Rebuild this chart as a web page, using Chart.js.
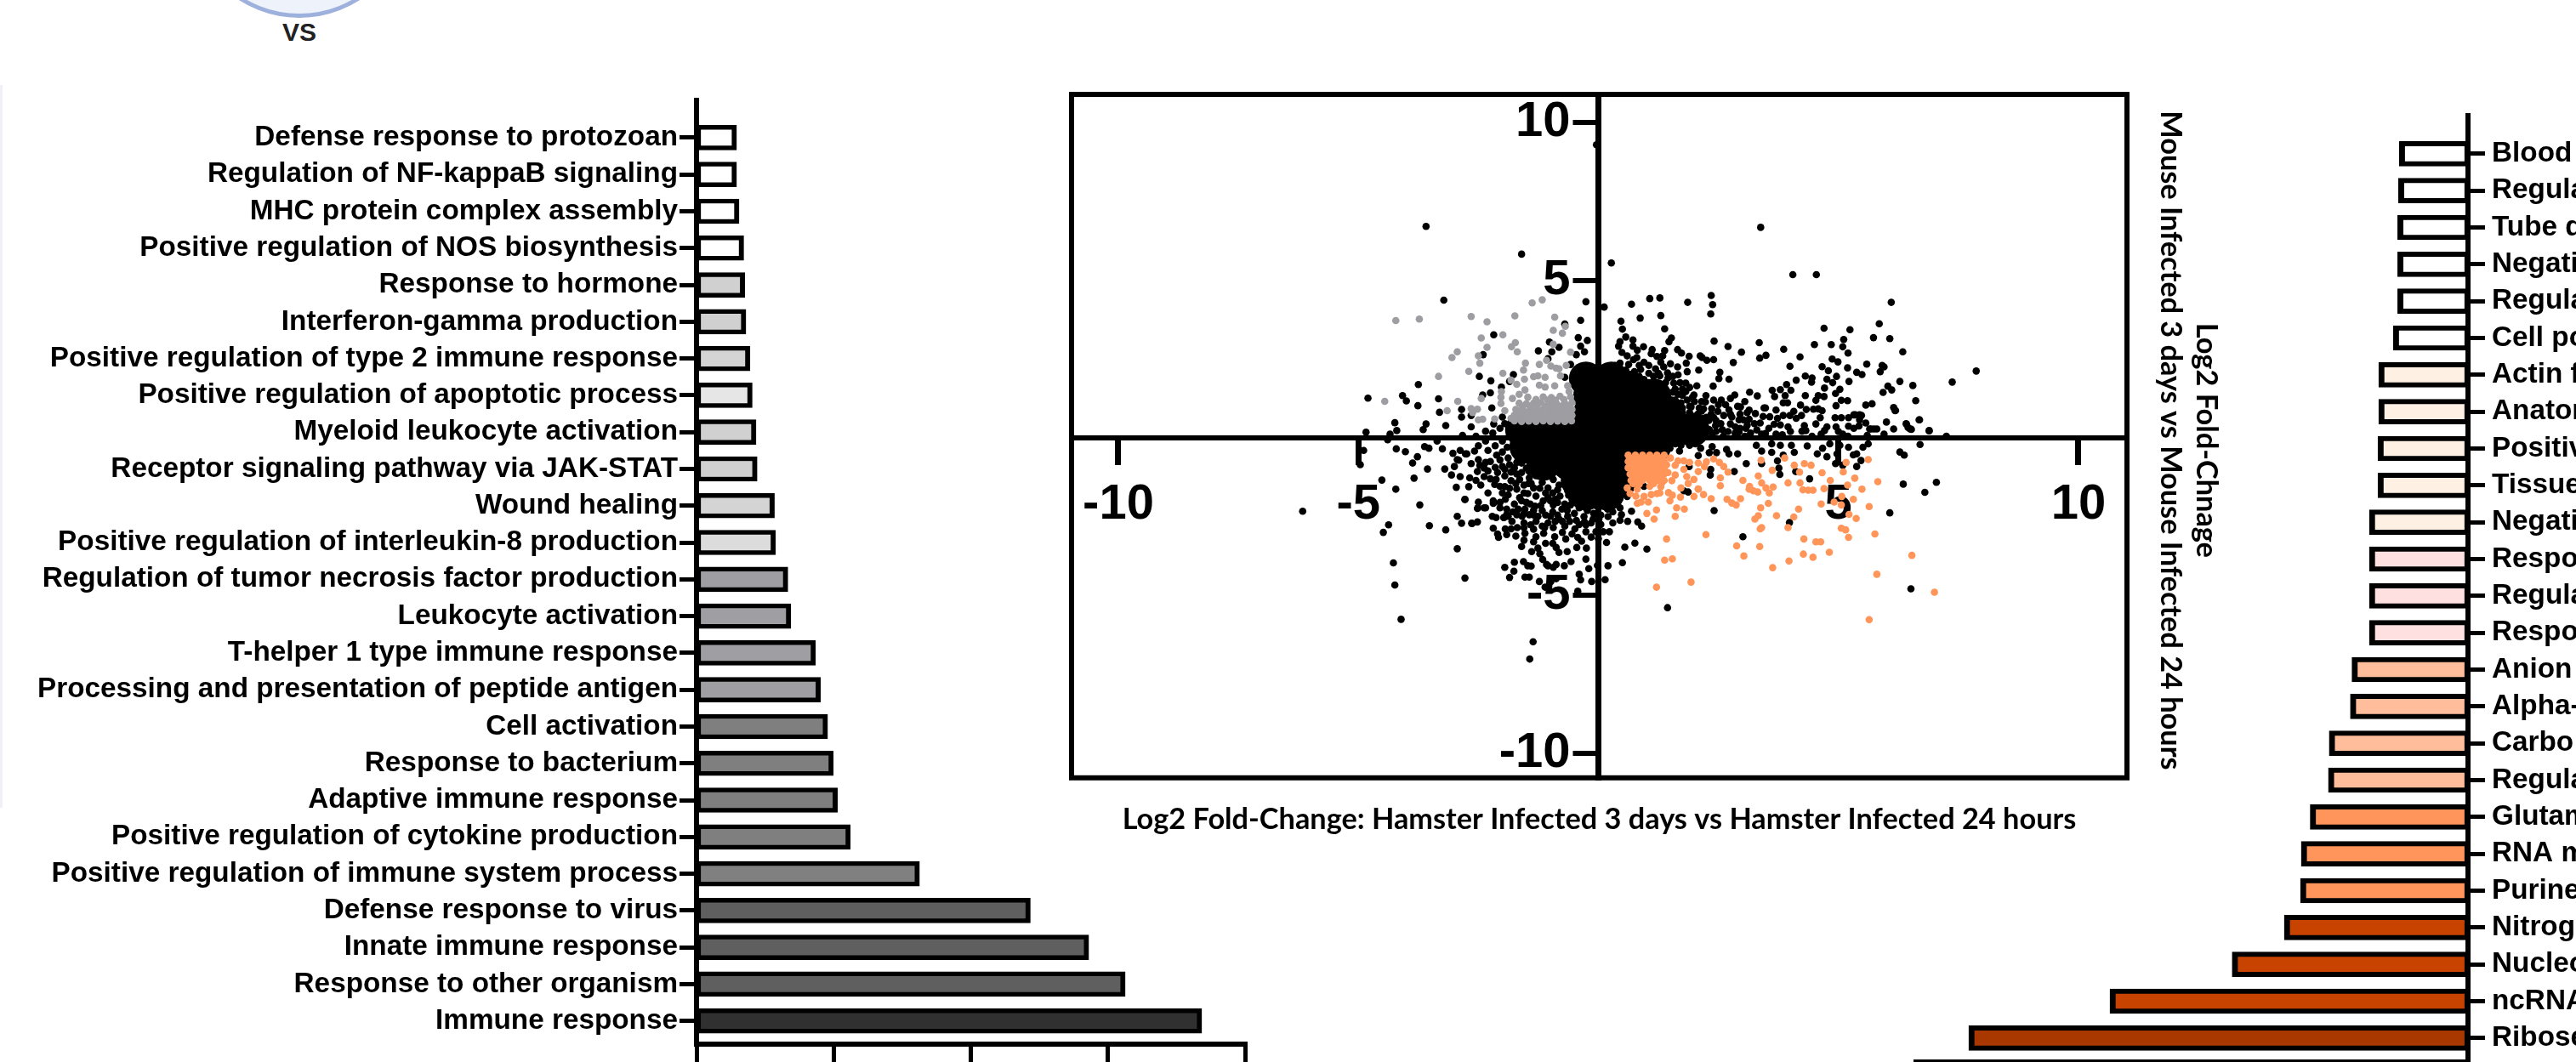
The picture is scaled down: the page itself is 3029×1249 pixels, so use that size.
<!DOCTYPE html>
<html><head><meta charset="utf-8">
<style>
html,body{margin:0;padding:0;background:#fff;width:3029px;height:1249px;overflow:hidden}
canvas{position:absolute}
#disc{position:absolute;left:221px;top:-241px;width:262px;height:262px;box-sizing:border-box;border-radius:50%;background:#edf2fb;border:5px solid #9db1dc}
#vs{position:absolute;left:302px;top:21px;width:100px;text-align:center;font:bold 30px 'Liberation Sans';color:#222}
#strip{position:absolute;left:0;top:100px;width:3px;height:850px;background:#f0f0f6}
</style>
<script src="https://cdn.jsdelivr.net/npm/chart.js@4/dist/chart.umd.min.js"></script>
</head><body>
<div id="strip"></div><div id="disc"></div><div id="vs">VS</div>
<canvas id="left" width="1480" height="1249" style="left:0;top:0"></canvas>
<canvas id="right" width="829" height="1249" style="left:2200px;top:0"></canvas>
<canvas id="scatter" width="1480" height="930" style="left:1150px;top:60px"></canvas>
<script>
const leftTerms=["Defense response to protozoan","Regulation of NF-kappaB signaling","MHC protein complex assembly","Positive regulation of NOS biosynthesis","Response to hormone","Interferon-gamma production","Positive regulation of type 2 immune response","Positive regulation of apoptotic process","Myeloid leukocyte activation","Receptor signaling pathway via JAK-STAT","Wound healing","Positive regulation of interleukin-8 production","Regulation of tumor necrosis factor production","Leukocyte activation","T-helper 1 type immune response","Processing and presentation of peptide antigen","Cell activation","Response to bacterium","Adaptive immune response","Positive regulation of cytokine production","Positive regulation of immune system process","Defense response to virus","Innate immune response","Response to other organism","Immune response"];
const leftValues=[1.46,1.46,1.55,1.72,1.76,1.80,1.95,2.03,2.17,2.21,2.84,2.88,3.33,3.44,4.34,4.52,4.78,4.99,5.14,5.61,8.13,12.17,14.30,15.63,18.42];
const leftColors=["#fff","#fff","#fff","#fff","#d0d0d0","#d0d0d0","#d4d4d4","#e6e6e6","#d0d0d0","#d0d0d0","#d4d4d4","#dcdcdc","#9e9ea3","#9e9ea3","#9e9ea3","#9e9ea3","#7f7f7f","#7f7f7f","#7f7f7f","#7f7f7f","#808080","#5f5f5f","#5f5f5f","#5f5f5f","#303030"];
const leftXTicks=[0,5,10,15,20];
// The right-hand labels are cut by the edge of the figure: only the readable part is kept.
const rightTerms=["Blood","Regula","Tube d","Negati","Regula","Cell po","Actin f","Anatom","Positiv","Tissue","Negati","Respo","Regula","Respo","Anion","Alpha-","Carbo","Regula","Glutam","RNA m","Purine","Nitrog","Nucleo","ncRNA","Ribose"];
const rightValues=[3.44,3.48,3.52,3.52,3.52,3.74,4.47,4.47,4.51,4.51,4.94,4.94,4.94,4.94,5.81,5.89,6.95,6.99,7.90,8.35,8.39,9.20,11.81,17.93,25.0];
const rightColors=["#fff","#fff","#fff","#fff","#fff","#fff","#fff0e4","#fff0e4","#fff0e4","#fff0e4","#fff0e4","#ffe0e0","#ffe0e0","#ffe0e0","#ffbd9b","#ffbd9b","#ffbd9b","#ffbd9b","#ff955a","#ff955a","#ff955a","#c94300","#c94300","#c94300","#a83800"];
const rightXTicks=[0,5,10,15,20,25];
const scatterXTicks=[-10,-5,5,10];
const scatterYTicks=[10,5,-5,-10];
const xTitle="Log2 Fold-Change: Hamster Infected 3 days vs Hamster Infected 24 hours";
const yTitle=["Log2 Fold-Chnage","Mouse Infected 3 days vs Mouse Infected 24 hours"];
// Solid centre of the cloud: individual genes cannot be read there, so wide markers stand in for them.
const corePoints=[[-.26,1.88],[.27,1.88],[.63,1.6],[-.17,1.34],[.36,1.34],[.89,1.34],[1.16,1.34],[-.17,.80],[.36,.80],[.89,.80],[1.43,.80],[-1.59,.26],[-1.05,.26],[-.52,.26],[.01,.26],[.54,.26],[1.07,.26],[1.60,.26],[1.96,.26],[-1.50,-.28],[-.97,-.28],[-.43,-.28],[.10,-.28],[.63,-.28],[1.16,-.28],[-1.14,-.82],[-.61,-.82],[-.08,-.82],[.45,-.82],[-.43,-1.36],[.01,-1.36],[.45,-1.36],[-.26,-1.77],[.19,-1.77]];
const blackPoints=[[-.04,9.30],[3.38,6.68],[-3.59,6.71],[-1.60,5.83],[.27,5.55],[-3.22,4.37],[-.26,4.32],[.12,4.15],[-.37,3.73],[-.70,3.61],[-2.18,3.27],[-1.02,3.04],[-.42,3.18],[-.23,3.09],[-.37,2.91],[-.82,2.87],[-1.25,2.76],[-2.40,2.64],[-.97,2.73],[-.46,2.64],[-.29,2.73],[-.58,2.33],[-1.05,2.51],[-2.48,1.95],[-1.77,2.01],[-1.85,1.79],[-2.24,1.81],[-3.75,1.69],[-2.02,1.61],[-.70,1.92],[-2.41,1.36],[-2.25,1.43],[-4.08,1.34],[-4.80,1.26],[-4.00,1.17],[-3.33,1.24],[-3.76,1.02],[-2.85,.90],[-2.22,.95],[-3.31,.81],[-2.65,.71],[-2.85,.66],[-2.00,.66],[-4.24,.48],[-3.59,.44],[-3.18,.39],[-4.20,.23],[-4.84,.18],[-4.34,.12],[-4.39,-.06],[-3.65,.26],[-2.65,.35],[-2.35,.21],[-2.18,.44],[-2.83,.08],[-4.89,-.40],[-4.96,-.85],[-4.21,-.35],[-4.02,-.44],[-3.62,-.28],[-3.53,-.33],[-3.36,-.10],[-3.25,-.35],[-3.03,-.49],[-2.88,-.40],[-2.74,-.51],[-3.77,-.60],[-3.87,-.80],[-3.56,-.99],[-3.20,-.99],[-2.94,-.69],[-3.0,-.91],[-2.65,-.82],[-2.50,-.69],[-2.47,-.87],[-2.35,-.78],[-2.52,-1.07],[-2.38,-1.23],[-3.06,-1.18],[-2.88,-1.23],[-2.68,-1.27],[-4.51,-1.34],[-4.22,-1.63],[-3.84,-1.28],[-2.96,-1.57],[-6.16,-2.33],[-3.72,-2.13],[-2.78,-1.95],[-2.50,-2.04],[-2.35,-2.22],[-2.52,-2.24],[-2.19,-2.08],[-2.94,-2.49],[-2.85,-2.71],[-2.64,-2.71],[-2.52,-2.67],[-3.52,-2.79],[-4.37,-2.76],[-4.48,-3.0],[-3.18,-2.92],[-2.94,-3.52],[-2.19,-2.87],[-2.13,-2.53],[-1.91,-2.44],[-1.97,-2.53],
[-2.77,-.51],[-2.58,-.42],[-2.91,-.71],[-2.38,-.96],[-2.13,-1.32],[-1.95,-1.21],[-2.15,-.94],[-2.12,-.55],[-1.88,-.64],[-1.70,-.78],[-1.50,-.96],[-2.0,-.91],[-1.82,-1.09],[-1.82,-1.36],[-1.64,-1.32],[-1.44,-1.27],[-2.16,-1.48],[-2.05,-1.54],[-1.70,-1.63],[-1.88,-1.81],[-1.64,-1.90],[-1.47,-1.77],[-1.35,-1.59],[-1.17,-1.41],[-.94,-1.32],[-1.05,-1.59],[-.82,-1.5],[-.64,-1.68],[-.46,-1.86],[-.35,-1.50],[-1.94,-1.95],[-2.18,-2.06],[-2.19,-2.0],[-2.51,-2.22],[-2.38,-2.22],[-2.78,-1.96],[-2.05,-2.22],[-1.91,-2.26],[-2.21,-2.49],[-1.97,-2.53],[-1.88,-2.49],[-1.67,-2.26],[-1.53,-2.26],[-1.32,-2.17],[-1.17,-2.31],[-1.70,-2.44],[-1.59,-2.49],[-1.44,-2.44],[-1.26,-2.49],[-.94,-2.13],[-.76,-2.26],[-.58,-2.13],[-.40,-2.22],[-.23,-2.31],[-1.0,-2.49],[-.82,-2.58],[-.64,-2.49],[-.46,-2.62],[-.29,-2.67],[-.11,-2.58],[-2.63,-2.72],[-2.10,-3.05],[-2.08,-3.16],[-1.94,-2.89],[-1.82,-2.89],[-1.69,-2.85],[-1.91,-3.07],[-1.72,-3.12],[-1.53,-3.03],[-1.30,-3.14],[-1.14,-3.03],[-.91,-3.14],[-1.41,-2.76],[-1.17,-2.80],[-.94,-2.85],[-.70,-2.80],[-.49,-2.89],[-.26,-2.76],[-.05,-2.98],[-.68,-3.21],[-.43,-3.16],[-.35,-3.28],[-.26,-2.98],[.10,-2.98],[.23,-2.98],[.17,-3.32],[-4.27,-3.97],[-4.24,-4.67],[-4.11,-5.76],[-2.78,-4.45],[-1.36,-6.47],[-1.43,-7.02],[-1.60,-3.45],[-1.39,-3.61],[-1.26,-3.50],[-1.22,-3.68],[-1.16,-3.86],[-1.08,-4.02],[-.88,-3.48],[-.82,-3.64],[-.65,-3.61],[-.45,-3.48],[-.25,-3.50],[-.26,-3.85],[-.57,-3.93],[-.71,-4.06],[-.88,-4.02],[-.94,-4.11],[-1.05,-4.06],[-1.95,-4.11],[-1.75,-3.95],[-1.76,-4.23],[-1.56,-3.93],[-1.47,-4.06],[-1.40,-4.07],[-1.85,-4.43],[-1.53,-4.42],[-1.44,-4.42],[-1.23,-4.56],[-1.11,-4.74],[-.99,-4.56],[-.88,-4.47],[-.40,-4.33],[-.37,-4.51],[-.14,-4.56],[-.2,-4.15],[-.02,-4.05],[.20,-4.06],[.14,-4.50],[-.43,-4.87],[.50,-3.96],[.55,-3.47],[.76,-3.34],[1.01,-3.53],[.01,-2.58],[.19,-2.26],[.45,-2.22],[.69,-2.33],[.48,-2.44],[.45,-2.62],[.61,-2.65],[.82,-2.67],[.90,-2.8],[.30,-2.04],[.60,-1.86],
[1.44,-5.39],[2.41,-2.31],[3.01,-3.14],[3.98,-2.69],[4.40,-1.30],[6.07,-2.38],[6.35,-1.47],[6.80,-1.73],[7.04,-1.41],[6.51,-4.79],[.95,-1.54],[1.87,-1.72],[1.78,-1.68],[2.34,-1.0],[2.33,-1.18],[1.89,-.91],[2.83,-1.07],[3.08,-.82],[3.40,-.82],[3.76,-.96],[3.78,-1.16],[3.73,-.73],[4.11,-1.07],[5.38,-.91],[4.94,-.82],[5.09,-.87],[5.31,-.54],[5.38,-.51],[5.47,-.72],[5.21,-.30],[5.51,-.30],[6.28,-.45],[6.37,-.55],[6.70,-.21],[7.24,.03],[5.62,-.19],[6.42,.43],[6.49,.28],[6.68,.57],[6.89,.23],[6.18,.86],[5.74,.28],[5.65,.28],[5.44,.73],[5.32,.73],[1.72,-.24],[1.90,-.24],[2.02,-.19],[2.31,-.47],[2.46,-.47],[2.72,-.51],[2.90,-.51],[2.67,-.37],[2.37,-.28],[2.13,-.33],[3.29,-.24],[3.40,-.42],[3.61,-.46],[3.85,-.55],[4.08,-.46],[4.02,-.24],[4.35,-.26],[4.56,-.51],[4.67,-.33],[4.76,-.6],[4.97,-.51],[4.82,-.19],[5.03,-.24],[3.61,-.19],[3.79,-.24],[1.13,-.19],[1.37,-.24],[1.60,-.19],[1.49,-.33],[1.69,-.42],[2.08,-.56],
[4.05,5.18],[4.54,5.18],[.69,4.24],[1.07,4.42],[1.28,4.44],[1.86,4.30],[2.35,4.52],[2.38,4.23],[2.34,3.93],[.47,3.70],[.87,3.80],[1.30,3.88],[6.10,4.30],[.50,3.45],[1.38,3.46],[4.70,3.48],[5.24,3.43],[5.85,3.62],[1.52,3.17],[1.47,3.05],[2.41,3.07],[5.73,3.18],[6.07,3.15],[5.11,3.12],[3.35,3.02],[2.70,2.90],[4.50,2.96],[4.85,2.96],[5.09,2.89],[3.86,2.81],[5.20,2.69],[6.34,2.73],[2.98,2.72],[3.49,2.62],[3.36,2.53],[4.20,2.57],[4.87,2.50],[4.99,2.41],[2.81,2.39],[5.59,2.34],[3.99,2.27],[4.66,2.26],[5.19,2.22],[5.91,2.30],[5.95,2.25],[5.87,2.10],[7.87,2.12],[7.37,1.77],[4.79,2.13],[5.38,2.08],[5.49,2.01],[4.31,1.96],[4.96,1.95],[4.45,1.90],[4.44,1.77],[4.76,1.86],[4.12,1.83],[4.88,1.75],[5.22,1.79],[6.28,1.79],[6.55,1.66],[3.92,1.69],[4.71,1.58],[6.03,1.64],[6.11,1.52],[5.93,1.44],[5.03,1.54],[4.94,1.41],[4.01,1.51],[3.62,1.51],[3.79,1.53],[3.67,1.31],[3.89,1.34],[3.31,1.33],[2.84,1.36],[4.31,1.34],[4.58,1.34],[4.70,1.31],[4.53,1.19],[5.06,1.19],[5.19,1.18],[4.95,1.02],[6.61,1.18],[5.57,1.04],[5.70,1.08],[3.94,1.11],[3.85,1.11],[4.21,1.04],[6.15,.96],[6.19,.87],[3.48,.95],[3.45,.95],[3.70,.88],[4.07,.84],[4.33,.90],[4.48,.91],[4.58,.92],[4.66,.86],[3.99,.71],[4.23,.71],[4.12,.62],[3.85,.71],[3.73,.62],[3.43,.68],[3.57,.67],[3.27,.77],[3.14,.88],[2.96,.98],[2.90,1.0],[2.72,.89],[3.14,.59],[3.02,.57],[2.93,.57],[2.78,.66],[2.75,.44],[3.37,.47],[3.66,.43],[3.79,.41],[4.29,.39],[4.24,.21],[4.32,.23],[4.53,.44],[4.62,.64],[4.76,.35],[4.71,.23],[4.64,.12],[4.93,.64],[5.06,.64],[5.21,.64],[5.35,.73],[5.48,.71],[5.44,.57],[5.57,.47],[4.95,.35],[5.0,.20],[5.09,.12],[5.21,.37],[5.32,.30],[5.43,.38],[5.68,.28],[5.80,.28],[6.69,.57],[6.41,.45],[6.45,.33],[6.52,.27],[6.89,.22],[3.07,.30],[3.17,.15],[2.93,.19],[3.48,.14],[3.70,.12],[3.83,.10],[7.25,.05],
[.57,3.2],[.72,3.11],[.45,3.05],[.42,2.91],[.72,2.91],[.81,2.78],[.49,2.71],[.94,2.89],[1.12,2.8],[1.10,2.67],[1.22,2.58],[1.34,2.6],[1.38,2.77],[1.65,2.8],[1.73,2.69],[1.89,2.59],[1.83,2.37],[2.12,2.6],[2.16,2.55],[2.26,2.46],[2.40,2.48],[2.09,2.15],[2.53,2.08],[2.51,1.88],[2.72,1.86],[2.39,1.64],[1.82,1.74],[1.82,1.47],[1.99,1.36],[2.24,1.34],[2.23,1.14],[2.40,1.2],[2.56,1.2],[2.36,.93],[2.19,.92],[2.49,.84],[2.61,.71],[1.96,1.29],[.73,2.48],[.63,2.33],[.45,2.37],[.57,2.15],[.88,2.17],[1.19,2.19],[1.36,2.25],[1.44,2.06],[1.28,1.97],[1.25,1.65],[1.57,1.74],[1.66,2.0],[1.43,1.47],[1.66,1.38],[1.31,1.25],[1.48,1.2],[1.72,1.11],[1.93,.98],[1.54,.93],[1.75,.8],[2.07,.75],[2.19,.62],[2.44,.39],[2.58,.26],[2.02,.48],[1.90,.48],[2.13,.3],[2.31,.26],[2.37,.12],[.55,2.05],[.35,2.3],[.85,1.95],[1.05,1.75],[1.15,1.95],[1.6,1.2],[1.9,1.0],[2.2,.45],[1.7,.55],[1.95,.2],[2.2,.12],
[-1.75,-.95],[-1.6,-1.1],[-1.45,-1.05],[-1.3,-1.2],[-1.55,-1.5],[-1.4,-1.45],[-1.22,-1.6],[-1.1,-1.75],[-.95,-1.75],[-.8,-1.85],[-.7,-1.5],[-.55,-1.6],[-1.3,-1.85],[-1.15,-2.0],[-1.0,-2.0],[-.85,-2.05],[-.7,-2.1],[-.55,-1.95],[-1.5,-2.05],[-1.35,-2.3],[-.2,-2.05],[-.05,-2.15],[.1,-2.1],[-.1,-2.4],[.05,-2.45],[.2,-2.5],[.3,-2.35],[-.75,-2.65],[-1.05,-2.7],[-1.3,-2.65],[-1.55,-2.7],[-1.8,-2.65],[-.95,-2.35],[-.5,-2.4],[-.3,-2.5],[-.2,-2.1],
[.95,1.85],[1.05,1.55],[.75,2.1],[1.15,1.1],[1.3,1.05],[1.45,1.0],[1.6,.9],[1.75,.7],[1.6,.65],[1.75,.95],[1.9,.8],[2.05,.6],[1.85,.35],[2.1,.15],[1.7,.3],[1.85,.15],[2.05,.35],[1.55,1.45],[1.2,1.7],[1.4,1.75],[1.55,1.95],[1.05,2.05],[2.25,.65],[2.4,.65],[2.55,.45],[2.7,.2],[2.85,.35],[2.6,.05],[2.85,.05],[3.05,.05],[3.3,.25],[3.55,.3],[4.0,.2],[4.45,.05],[5.2,.05],[5.6,.08],[5.95,.12],[6.15,.28],[6.0,.5],
[-2.05,.3],[-1.95,.45],[-2.2,.15],[-2.35,-.1],[-2.15,-.25],[-2.0,-.1],[-1.85,.1],[-2.5,-.25],[-2.3,-.4],[-2.0,-.45],[-1.9,-.3],[-2.55,.05],
[-1.95,-1.55],[-1.72,-1.45],[-1.55,-1.75],[-1.75,-2.1],[-1.6,-2.0],[-1.42,-2.1],[-1.2,-2.15],[-1.05,-1.9],[-.85,-1.65],[-.9,-1.95],[-.62,-1.82],[-.4,-2.05],[-.65,-2.3],[-.85,-2.45],[-1.1,-2.45],[-1.35,-2.45],[-1.55,-2.4],[-1.78,-2.35],[-2.05,-2.05],[-1.85,-1.6],[-2.0,-1.75],[-2.3,-1.75],[-2.45,-1.5],[-2.25,-1.3],[-2.55,-1.35],[-2.7,-1.55],[-2.3,-1.05],[-2.1,-1.1],[-1.95,-1.0],[-1.7,-1.15],[-1.45,-1.45],[-2.25,-.75],[-2.05,-.7],[-1.85,-.85],[-1.6,-.8],[-.15,-2.7],[.05,-2.75],[.3,-2.7],[-.4,-2.75],[-.6,-2.65],[-.9,-2.65],[-1.12,-2.85],[-1.35,-2.9],[-1.55,-2.85],[-.75,-3.0],[-.55,-3.05],[-.15,-3.15],[.0,-3.2],[-1.1,-3.35],[-.95,-3.35],[-1.35,-3.3],[-1.55,-3.25],
[.65,1.95],[.95,2.4],[.8,2.55],[.6,2.6],[.85,2.3],[1.05,2.3],[1.3,2.4],[1.5,2.35],[1.65,2.25],[1.85,2.1],[1.25,2.05],[1.45,1.9],[1.7,1.75],[1.75,1.55],[1.9,1.6],[2.05,1.65],[2.15,1.15],[2.0,1.15],[1.85,1.2],[1.75,1.35],[2.1,.95],[2.35,.75],[2.45,.55],[2.3,.55],[2.25,.3],[2.45,.2],[2.15,.85],[1.6,1.55],[1.35,1.55],[2.5,1.05],[2.65,1.05],[2.75,.75],[2.95,.75],[3.1,.8],[3.25,.45],[2.95,.3],[3.1,.4],[2.85,.15],[3.4,.12],[3.95,.35],[2.75,1.25],[3.05,1.15],[3.15,1.45]];
const grayPoints=[[-4.22,3.72],[-3.73,3.77],[-4.45,1.16],[-2.65,3.85],[-2.32,3.68],[-1.74,3.87],[-1.38,4.28],[-1.17,4.38],[-.91,3.83],[-.69,3.54],[-.94,3.41],[-.75,3.32],[-1.99,3.27],[-2.44,3.17],[-2.32,2.87],[-1.73,3.02],[-1.81,2.89],[-1.69,2.73],[-.94,2.97],[-.58,2.72],[-2.94,2.73],[-3.05,2.55],[-2.50,2.60],[-2.47,2.37],[-3.33,1.95],[-2.70,2.11],[-1.99,2.05],[-1.52,2.37],[-1.56,2.15],[-1.23,2.33],[-1.08,2.46],[-.99,2.28],[-.88,2.21],[-.79,1.97],[-.67,2.30],[-.82,2.19],[-1.54,1.86],[-1.35,1.94],[-1.11,1.92],[-1.26,1.97],[-1.82,1.83],[-1.70,1.70],[-2.02,1.47],[-2.03,1.29],[-1.23,1.67],[-1.11,1.61],[-.91,1.65],[-.64,1.65],[-.61,1.47],[-1.53,1.52],[-1.65,1.38],[-1.79,1.25],[-1.47,1.29],[-2.44,1.25],[-2.93,1.16],[-3.15,.86],[-2.65,.93],[-2.52,.91],[-2.62,.80],[-2.50,.57],[-2.41,.59],[-2.16,.60],[-2.03,1.09],[-1.95,.86],[-1.82,.62],
[-1.75,.54],[-1.6,.52],[-1.45,.53],[-1.3,.52],[-1.15,.54],[-1.0,.52],[-.85,.53],[-.7,.52],[-.56,.54],[-1.75,.72],[-1.6,.70],[-1.45,.72],[-1.3,.70],[-1.15,.71],[-1.0,.70],[-.85,.72],[-.7,.70],[-.55,.71],[-1.72,.90],[-1.58,.92],[-1.42,.90],[-1.28,.91],[-1.15,.90],[-1.0,.92],[-.85,.90],[-.7,.91],[-.55,.90],[-1.65,1.10],[-1.5,1.08],[-1.35,1.10],[-1.2,1.12],[-1.02,1.10],[-.87,1.08],[-.7,1.10],[-.55,1.12],[-1.15,1.30],[-.98,1.28],[-.8,1.32],[-.58,1.30],
[-1.68,.62],[-1.52,.62],[-1.38,.62],[-1.22,.62],[-1.08,.62],[-.92,.62],[-.78,.62],[-.62,.62],[-1.65,.81],[-1.5,.81],[-1.35,.81],[-1.22,.81],[-1.08,.81],[-.92,.81],[-.78,.81],[-.62,.81],[-1.58,1.0],[-1.42,1.0],[-1.28,1.0],[-1.1,1.0],[-.95,1.0],[-.78,1.0],[-.62,1.0],[-1.3,1.22],[-1.06,1.2],[-.9,1.2],[-.72,1.22]];
const orangePoints=[[.62,-.55],[.77,-.55],[.92,-.55],[1.07,-.55],[1.22,-.55],[1.37,-.55],[.62,-.75],[.77,-.75],[.92,-.75],[1.07,-.75],[1.22,-.75],[1.37,-.75],[.62,-.95],[.77,-.95],[.92,-.95],[1.07,-.95],[1.22,-.95],[1.37,-.95],[.66,-1.15],[.77,-1.15],[.92,-1.15],[1.07,-1.15],[1.22,-1.15],[1.37,-1.15],[.68,-1.35],[.77,-1.35],[.92,-1.35],[1.07,-1.35],[1.22,-1.35],[1.37,-1.35],[.60,-1.59],[.81,-1.63],[1.07,-1.54],[1.22,-1.77],[.95,-1.86],[.81,-2.08],[1.04,-2.04],[.89,-2.04],[.66,-1.77],[1.01,-2.40],[1.16,-2.58],[1.21,-2.29],[1.60,-2.49],[1.63,-2.22],[1.79,-2.26],[1.42,-3.21],[2.24,-3.07],[1.38,-3.88],[1.54,-3.84],[1.21,-4.74],[1.93,-4.58],[2.88,-3.43],[3.03,-3.75],[3.36,-3.45],[3.63,-4.12],[3.97,-3.91],[4.27,-3.69],[4.47,-3.79],[4.81,-3.63],[4.28,-3.21],[4.53,-3.30],[4.63,-3.30],[5.21,-3.16],[5.06,-2.87],[5.15,-2.92],[5.76,-3.05],[6.53,-3.73],[5.80,-4.33],[7.0,-4.90],[5.64,-5.77],[3.95,-2.85],[4.07,-2.51],[4.17,-2.26],[3.40,-2.85],[3.37,-2.89],[3.33,-2.47],[3.26,-2.58],[3.71,-2.47],[3.38,-2.22],[3.54,-2.08],[2.68,-1.95],[2.78,-2.07],[2.87,-2.13],[2.96,-1.93],[2.35,-1.93],[2.19,-1.80],[2.08,-1.62],[1.99,-1.86],[1.71,-1.88],[1.49,-2.0],[1.46,-1.74],[1.54,-1.82],[1.28,-1.75],[1.32,-1.43],[1.53,-1.36],[1.60,-1.18],[1.50,-.64],[1.66,-.73],[1.78,-.73],[1.90,-.78],[2.08,-.80],[2.25,-.76],[2.40,-.67],[2.52,-.78],[2.61,-.91],[2.70,-1.09],[2.08,-1.07],[2.21,-.91],[1.84,-1.23],[1.78,-1.0],[1.60,-.87],[1.99,-1.32],[1.87,-1.45],[1.72,-1.59],[2.08,-1.63],[2.54,-1.27],[2.54,-1.52],[3.01,-1.35],[3.15,-1.54],[3.23,-1.68],[3.32,-1.72],[3.14,-1.63],[3.33,-1.21],[3.40,-1.43],[3.49,-1.59],[3.56,-1.75],[3.64,-1.56],[3.39,-.71],[3.62,-1.03],[3.88,-.64],[3.95,-1.43],[4.19,-1.09],[4.20,-1.43],[4.26,-1.65],[4.37,-1.66],[4.47,-1.66],[4.08,-.87],[4.29,-.82],[4.43,-.87],[4.66,-1.11],[4.70,-1.61],[4.83,-1.35],[5.10,-1.08],[5.16,-.78],[5.62,-.69],[5.34,-1.28],[5.19,-1.50],[5.49,-1.63],[5.82,-1.39],[5.07,-1.86],[5.31,-1.95],[4.91,-2.04],[5.06,-2.13],[4.64,-2.10],[5.22,-2.43],[5.37,-2.56],[5.64,-2.18],
[.7,-.65],[.85,-.65],[1.0,-.65],[1.15,-.65],[1.3,-.65],[.7,-.85],[.85,-.85],[1.0,-.85],[1.15,-.85],[1.3,-.85],[.7,-1.05],[.85,-1.05],[1.0,-1.05],[1.15,-1.05],[1.3,-1.05],[.72,-1.25],[.85,-1.25],[1.0,-1.25],[1.15,-1.25],[1.3,-1.25],[.85,-1.47],[1.15,-1.45],[1.3,-1.55],[.72,-1.45],[1.42,-.85],[1.45,-1.1],[.78,-1.85],[1.1,-1.8]];

const LABEL={family:"'Liberation Sans'",size:33.3,weight:'bold'};
const fixedTicks=(values)=>(s)=>{s.ticks=values.map(v=>({value:v}));};
const noOverhang=(s)=>{s.paddingTop=0;s.paddingBottom=0;s.paddingLeft=0;s.paddingRight=0;};
const toXY=(pts)=>pts.map(p=>({x:p[0],y:p[1]}));
const rows=(vals)=>vals.map((v,i)=>({x:v,y:i}));
const indexList=(arr)=>arr.map((_,i)=>i);
const base={responsive:false,animation:false,events:[],plugins:{legend:{display:false},tooltip:{enabled:false}}};

new Chart(document.getElementById('left'),{type:'bar',
  data:{datasets:[{data:rows(leftValues),backgroundColor:leftColors,borderColor:'#000',borderSkipped:false,
    borderWidth:{top:5.5,bottom:5.5,left:3,right:6},barThickness:29}]},
  options:{...base,indexAxis:'y',
    layout:{autoPadding:false,padding:{top:117.5,right:16,left:0,bottom:0}},
    scales:{
      x:{type:'linear',min:0,max:20,afterBuildTicks:fixedTicks(leftXTicks),afterFit:s=>{s.height=21;noOverhang(s);},
        border:{color:'#000',width:6},grid:{drawOnChartArea:false,color:'#000',lineWidth:5,tickLength:24},ticks:{display:false}},
      y:{type:'linear',offset:false,reverse:true,min:-1.026,max:24.63,afterBuildTicks:fixedTicks(indexList(leftTerms)),afterFit:s=>{s.width=819;noOverhang(s);},
        border:{color:'#000',width:6},grid:{offset:false,drawOnChartArea:false,color:'#000',lineWidth:5,tickLength:20},
        ticks:{autoSkip:false,padding:2,color:'#000',font:LABEL,callback:v=>leftTerms[v]}}
    }}});

new Chart(document.getElementById('right'),{type:'bar',
  data:{datasets:[{data:rows(rightValues),backgroundColor:rightColors,borderColor:'#000',borderSkipped:false,
    borderWidth:{top:6,bottom:6,left:7,right:3},barThickness:29}]},
  options:{...base,indexAxis:'y',
    layout:{autoPadding:false,padding:{top:136,left:53,right:0,bottom:0}},
    scales:{
      x:{type:'linear',reverse:true,min:0,max:27.64,afterBuildTicks:fixedTicks(rightXTicks),afterFit:s=>{s.height=0;noOverhang(s);},
        border:{color:'#000',width:6},grid:{drawOnChartArea:false,color:'#000',lineWidth:3,tickLength:10},ticks:{display:false}},
      y:{type:'linear',offset:false,position:'right',reverse:true,min:-1.035,max:24.65,afterBuildTicks:fixedTicks(indexList(rightTerms)),afterFit:s=>{s.width=127;noOverhang(s);},
        border:{color:'#000',width:6},grid:{offset:false,drawOnChartArea:false,color:'#000',lineWidth:5,tickLength:20},
        ticks:{autoSkip:false,padding:8,color:'#000',font:LABEL,callback:v=>rightTerms[v]}}
    }}});

const crossAxes={id:'crossAxes',
  afterLayout(chart){
    const {x,y}=chart.scales;
    const x0=x.getPixelForValue(0),y0=y.getPixelForValue(0);
    y.right=x0;y.left=x0-200;y.width=200;
    x.top=y0;x.bottom=y0+200;x.height=200;
    chart.boxes.filter(b=>b.position==='right'&&b.options&&b.options.text).forEach(b=>{b.top+=5;b.bottom+=5;});
  },
  beforeDraw(chart){
    const a=chart.chartArea,c=chart.ctx;
    c.save();c.strokeStyle='#000';c.lineWidth=6;c.strokeRect(a.left,a.top,a.right-a.left,a.bottom-a.top);c.restore();
  }};
const TICK={family:"'Liberation Sans'",size:58,weight:'bold'};
const TITLE={family:'Lato',size:34.3,weight:'bold'};
const dot=(data,color,radius,order)=>({data:toXY(data),backgroundColor:color,pointRadius:radius,pointBorderWidth:0,order});
new Chart(document.getElementById('scatter'),{type:'scatter',plugins:[crossAxes],
  data:{datasets:[dot(corePoints,'#000',20,4),dot(blackPoints,'#000',4.3,3),dot(grayPoints,'#9d9da2',4.3,1),dot(orangePoints,'#ff9559',4.3,2)]},
  options:{...base,
    layout:{autoPadding:false,padding:{left:110,top:51,right:15,bottom:6}},
    plugins:{...base.plugins,
      title:{display:true,position:'bottom',fullSize:false,text:xTitle,color:'#000',font:{...TITLE,lineHeight:1.155},padding:{top:29.6,bottom:0}},
      subtitle:{display:true,position:'right',fullSize:false,text:yTitle,color:'#000',font:{...TITLE,lineHeight:1.2245},padding:{top:0,bottom:30}}},
    scales:{
      x:{type:'linear',position:'bottom',min:-10.974,max:11.01,afterBuildTicks:fixedTicks(scatterXTicks),afterFit:s=>{s.height=0;noOverhang(s);},
        border:{color:'#000',width:6},grid:{drawOnChartArea:false,color:'#000',lineWidth:7,tickLength:32},
        ticks:{autoSkip:false,maxRotation:0,padding:12,color:'#000',font:TICK,callback:v=>String(v)}},
      y:{type:'linear',position:'left',min:-10.79,max:10.90,afterBuildTicks:fixedTicks(scatterYTicks),afterFit:s=>{s.width=0;noOverhang(s);},
        border:{color:'#000',width:7},grid:{drawOnChartArea:false,color:'#000',lineWidth:6,tickLength:30},
        ticks:{autoSkip:false,padding:3,color:'#000',font:TICK,callback:v=>String(v)}}
    }}});
</script>
</body></html>
